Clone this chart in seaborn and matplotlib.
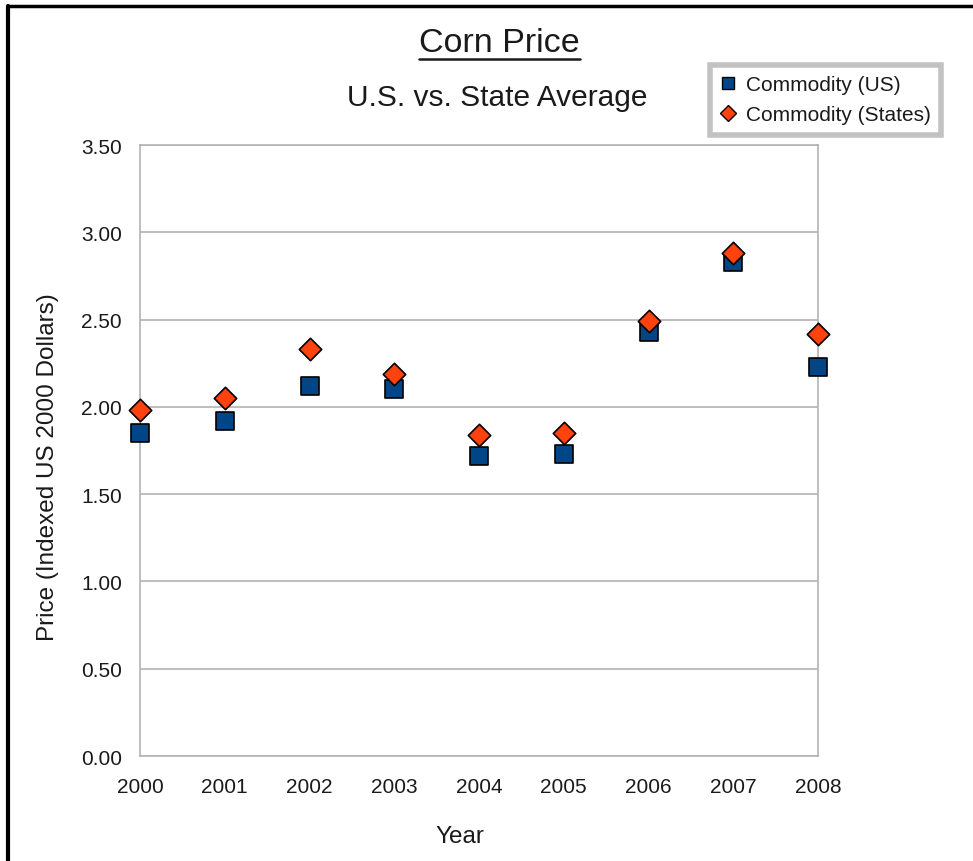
import matplotlib
matplotlib.use("Agg")
import matplotlib.pyplot as plt
from matplotlib.lines import Line2D
import pandas as pd
import seaborn as sns

years = [2000, 2001, 2002, 2003, 2004, 2005, 2006, 2007, 2008]
us_price = [1.85, 1.92, 2.12, 2.10, 1.72, 1.73, 2.43, 2.83, 2.23]
states_price = [1.98, 2.05, 2.33, 2.19, 1.84, 1.85, 2.49, 2.88, 2.42]
series_names = ["Commodity (US)", "Commodity (States)"]
y_ticks = [0.0, 0.5, 1.0, 1.5, 2.0, 2.5, 3.0, 3.5]

df = pd.DataFrame({
    "Year": years * 2,
    "Price": us_price + states_price,
    "Series": [series_names[0]] * len(years) + [series_names[1]] * len(years),
})

sns.set_theme(style="white")
plt.rcParams["font.family"] = ["Liberation Sans", "DejaVu Sans"]

grey = "#b3b3b3"
text_col = "#1a1a1a"

fig = plt.figure(figsize=(9.73, 8.62), dpi=100)
fig.patch.set_facecolor("white")
ax = fig.add_axes([0.1439, 0.1218, 0.6968, 0.7088])

palette = {series_names[0]: "#004586", series_names[1]: "#ff420e"}
markers = {series_names[0]: "s", series_names[1]: "D"}
sizes_map = {series_names[0]: 150, series_names[1]: 130}

for name in series_names:
    sub = df[df["Series"] == name]
    sns.scatterplot(data=sub, x="Year", y="Price", ax=ax, color=palette[name],
                    marker=markers[name], s=sizes_map[name], edgecolor="black",
                    linewidth=1.2, clip_on=False, zorder=3, label=name, legend=False)

ax.set_xlim(years[0], years[-1])
ax.set_ylim(y_ticks[0], y_ticks[-1])
ax.set_xticks(years)
ax.set_xticklabels([str(y) for y in years])
ax.set_yticks(y_ticks)
ax.set_yticklabels([f"{v:.2f}" for v in y_ticks])
ax.yaxis.grid(True, color=grey, linewidth=1.2)
ax.xaxis.grid(False)
for sp in ax.spines.values():
    sp.set_color(grey)
    sp.set_linewidth(1.2)
ax.tick_params(axis="both", direction="out", length=8, width=1.2, color=grey,
               labelcolor=text_col, labelsize=15, pad=5)
ax.tick_params(axis="x", pad=7)
ax.set_xlabel("Year", fontsize=17.5, color=text_col)
ax.set_ylabel("Price (Indexed US 2000 Dollars)", fontsize=17.5, color=text_col)
ax.xaxis.set_label_coords(0.472, -0.113)
ax.yaxis.set_label_coords(-0.120, 0.475)

# titles
t = fig.text(0.513, 0.949, "Corn Price", ha="center", va="center", fontsize=24.5, color=text_col)
fig.text(0.511, 0.886, "U.S. vs. State Average", ha="center", va="center", fontsize=21.5, color=text_col)
fig.canvas.draw()
bb = t.get_window_extent()
inv = fig.transFigure.inverted()
(x0, y0), (x1, y1) = inv.transform([(bb.x0, bb.y0), (bb.x1, bb.y1)])
fig.add_artist(Line2D([x0, x1], [y0 - 0.001, y0 - 0.001], color=text_col, linewidth=1.8,
                      transform=fig.transFigure))

# legend
handles = [
    Line2D([], [], linestyle="none", marker="s", markersize=9, markerfacecolor="#004586",
           markeredgecolor="black", markeredgewidth=1),
    Line2D([], [], linestyle="none", marker="D", markersize=8, markerfacecolor="#ff420e",
           markeredgecolor="black", markeredgewidth=1),
]
leg = fig.legend(handles, series_names, loc="upper left", bbox_to_anchor=(0.7194, 0.936),
                 frameon=True, fancybox=False, fontsize=15, handlelength=0.7,
                 handletextpad=0.5, borderpad=0.5, labelspacing=0.55)
leg.get_frame().set_edgecolor(grey)
leg.get_frame().set_linewidth(4)
for txt in leg.get_texts():
    txt.set_color(text_col)

# page frame (left and top edges)
fig.add_artist(Line2D([0.0085, 0.0085], [0.0, 0.992], color="black", linewidth=3,
                      transform=fig.transFigure))
fig.add_artist(Line2D([0.0085, 1.0], [0.992, 0.992], color="black", linewidth=2.5,
                      transform=fig.transFigure))

fig.savefig("out.png", dpi=100, facecolor="white")
